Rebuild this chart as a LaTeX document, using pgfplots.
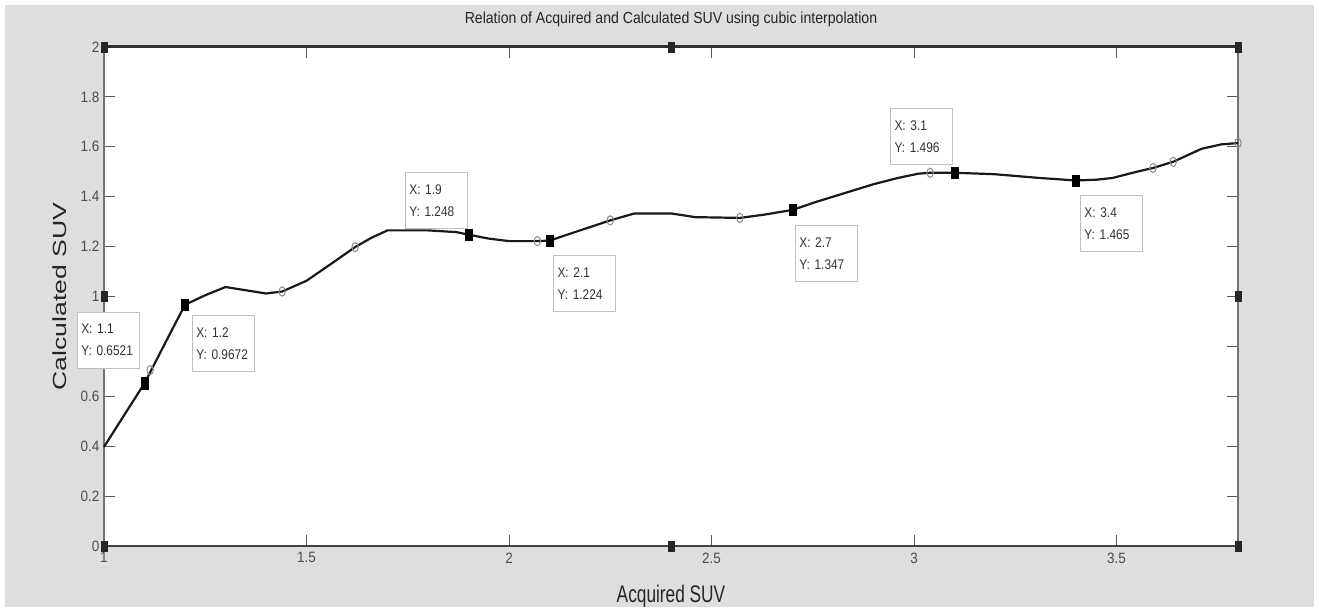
\documentclass[border=0pt]{standalone}
\usepackage{fontspec}
\setmainfont{Liberation Sans}
\newfontfamily\narrowfont[FakeStretch=0.88]{Liberation Sans}
\newfontfamily\tickfont[FakeStretch=0.9]{Liberation Sans}
\newfontfamily\tipfont[FakeStretch=0.85]{Liberation Sans}
\newfontfamily\xlabfont[FakeStretch=0.72]{Liberation Sans}
\newfontfamily\ylabfont[FakeStretch=1.4]{Liberation Sans}
\usepackage{pgfplots}
\pgfplotsset{compat=1.18}
\definecolor{figgray}{RGB}{222,222,222}
\tikzset{tipbox/.style={draw=black!25, line width=0.8pt, fill=white, align=left, anchor=north west,
     font=\tipfont\fontsize{14}{22}\selectfont, text=black!80, inner xsep=4pt, inner ysep=12pt, text width=54pt}}
\begin{document}
\begin{tikzpicture}[x=1pt,y=1pt]
\useasboundingbox (0,0) rectangle (1319,612);
\fill[white] (0,0) rectangle (1319,612);
\fill[figgray] (5,5) rectangle (1314,607);
\begin{axis}[
  at={(104pt,66pt)}, anchor=south west,
  scale only axis, width=1134pt, height=499pt,
  xmin=1, xmax=3.8, ymin=0, ymax=2,
  xtick={1,1.5,2,2.5,3,3.5},
  ytick={0,0.2,0.4,0.6,0.8,1,1.2,1.4,1.6,1.8,2},
  yticklabels={0,0.2,0.4,0.6,,1,1.2,1.4,1.6,1.8,2},
  tick align=inside, major tick length=11pt,
  axis background/.style={fill=white},
  axis line style={black!55, line width=1.3pt},
  tick style={black!65, line width=1pt},
  /pgf/number format/assume math mode=true,
  ticklabel style={font=\tickfont\fontsize{15}{15}\selectfont, text=black!70},
  xticklabel style={yshift=-3pt},
  yticklabel style={xshift=-1pt},
  title={Relation of Acquired and Calculated SUV using cubic interpolation},
  title style={at={(axis description cs:0.5,1.044)}, anchor=center, font=\narrowfont\fontsize{16}{16}\selectfont, text=black!85},
  xlabel={Acquired SUV},
  xlabel style={at={(axis description cs:0.5,-0.072)}, anchor=north, font=\xlabfont\fontsize{24}{24}\selectfont, text=black!85},
  ylabel={Calculated SUV},
  ylabel style={at={(axis description cs:-0.039,0.5)}, anchor=center, rotate=0, font=\ylabfont\fontsize{19}{19}\selectfont, text=black!85},
  clip=false,
]
% thick top and bottom frame lines (selected axes)
\draw[line width=3pt, black!80] (rel axis cs:0,1) -- (rel axis cs:1,1);
\draw[line width=2.5pt, black!75] (rel axis cs:0,0) -- (rel axis cs:1,0);

% interpolated curve
\addplot[black!90, line width=2.2pt] coordinates {
(1.00,0.397) (1.05,0.525) (1.10,0.652) (1.15,0.810) (1.20,0.967) (1.25,1.005) (1.30,1.038)
(1.35,1.025) (1.40,1.012) (1.44,1.020) (1.50,1.063) (1.56,1.130) (1.62,1.198)
(1.66,1.235) (1.70,1.265) (1.80,1.265) (1.87,1.258) (1.90,1.248) (1.95,1.232)
(2.00,1.222) (2.07,1.222) (2.10,1.224) (2.17,1.262) (2.25,1.305) (2.31,1.333)
(2.40,1.333) (2.46,1.318) (2.57,1.315) (2.63,1.328) (2.70,1.347) (2.76,1.380)
(2.82,1.410) (2.90,1.450) (2.96,1.475) (3.01,1.492) (3.04,1.496) (3.10,1.496)
(3.20,1.490) (3.31,1.475) (3.40,1.465) (3.45,1.468) (3.49,1.475) (3.55,1.500)
(3.59,1.515) (3.64,1.540) (3.71,1.592) (3.76,1.610) (3.80,1.615)
};

% original data points (open circles)
\addplot[only marks, mark=o, mark size=4pt, mark options={black!45, line width=1pt, xscale=0.8, yscale=1.15}] coordinates {
(1.114,0.705) (1.44,1.020) (1.62,1.198) (2.07,1.222) (2.25,1.305) (2.57,1.315)
(3.04,1.496) (3.59,1.515) (3.64,1.540) (3.80,1.615)
};

% data tip markers
\addplot[only marks, mark=square*, mark size=4.5pt, mark options={black, xscale=0.8, yscale=1.25}] coordinates {
(1.1,0.6521) (1.2,0.9672) (1.9,1.248) (2.1,1.224) (2.7,1.347) (3.1,1.496) (3.4,1.465)
};

% selection handles
\addplot[only marks, mark=square*, mark size=4pt, mark options={black!85, xscale=0.8, yscale=1.3}] coordinates {
(1,2) (2.4,2) (3.8,2) (3.8,1) (3.8,0) (2.4,0) (1,0) (1,1)
};

% data tip boxes
\node[tipbox] at (axis cs:0.933,0.938) {X: 1.1\\Y: 0.6521};
\node[tipbox] at (axis cs:1.217,0.926) {X: 1.2\\Y: 0.9672};
\node[tipbox] at (axis cs:1.743,1.499) {X: 1.9\\Y: 1.248};
\node[tipbox] at (axis cs:2.109,1.166) {X: 2.1\\Y: 1.224};
\node[tipbox] at (axis cs:2.706,1.287) {X: 2.7\\Y: 1.347};
\node[tipbox] at (axis cs:2.941,1.756) {X: 3.1\\Y: 1.496};
\node[tipbox] at (axis cs:3.410,1.407) {X: 3.4\\Y: 1.465};
\end{axis}
\end{tikzpicture}
\end{document}
